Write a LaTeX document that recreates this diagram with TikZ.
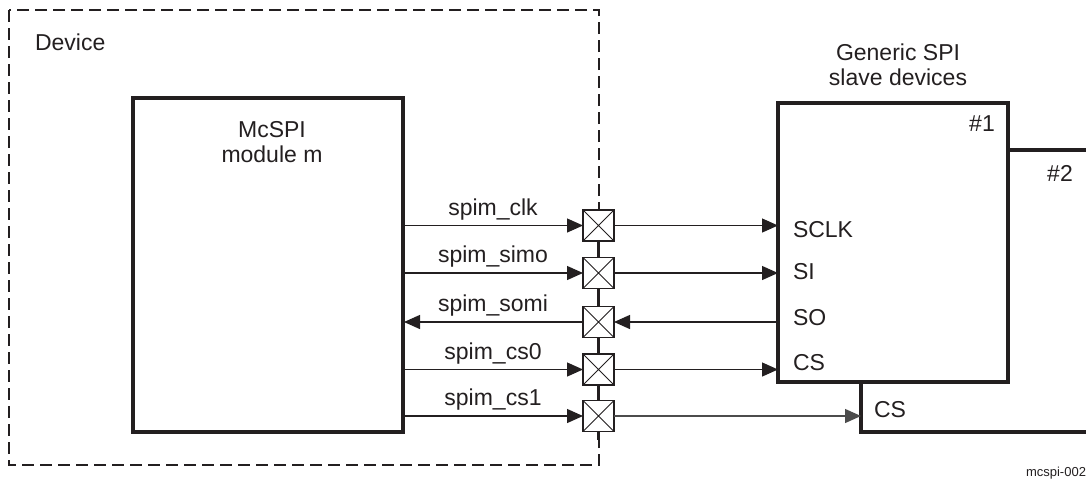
\documentclass[tikz,border=0pt]{standalone}
\usepackage{fontspec}
\setmainfont{Liberation Sans}
\usetikzlibrary{arrows.meta}
\definecolor{ink}{HTML}{231F20}
\begin{document}
\begin{tikzpicture}[x=1pt,y=-1pt,
  every node/.style={inner sep=0pt,outer sep=0pt,text=ink,font=\fontsize{23}{25}\selectfont},
  devbox/.style={draw=ink,line width=2.8pt,dash pattern=on 12pt off 6pt},
  modbox/.style={draw=ink,line width=3.3pt,fill=white},
  slavebox/.style={draw=ink,line width=3.8pt,fill=white},
  pad/.style={draw=ink,line width=1.9pt,fill=white,minimum size=31pt,path picture={
    \draw[ink,line width=0.9pt] (path picture bounding box.north west) -- (path picture bounding box.south east)
      (path picture bounding box.north east) -- (path picture bounding box.south west);}},
  sig/.style={draw=ink,line width=1.3pt,-{Triangle[length=16pt,width=14pt]}},
  lbl/.style={anchor=base},
  port/.style={anchor=west}
]
\useasboundingbox (0,0) rectangle (1086,483);
% device boundary
\draw[devbox] (9,10) rectangle (599,465);
\node[anchor=west] (dev) at (35,42) {Device};
% McSPI module
\draw[modbox] (133,98) rectangle (403,432);
\node[align=center,anchor=base] (mod) at (272,162) {McSPI\\module m};
% slave boxes
\draw[slavebox] (1090,150) -| (861,432) -- (1090,432);
\node[slavebox,minimum width=230pt,minimum height=279pt,anchor=north west] (s1) at (778,103) {};
\node[align=center,anchor=base] (gen) at (898,85) {Generic SPI\\slave devices};
\node (n1) at (982,124) {\#1};
\node (n2) at (1060,173) {\#2};
% pads
\foreach \n/\y in {1/225.5,2/273,3/322,4/369.5,5/416}{
  \node[pad] (p\n) at (598.5,\y) {};
}
\draw[ink,line width=2.8pt] (p1.south) -- (p2.north) (p2.south) -- (p3.north) (p3.south) -- (p4.north) (p4.south) -- (p5.north) (p5.south) -- ++(0,8);
% signal lines
\draw[sig] (403,225.5) -- (p1.west);
\draw[sig] (403,273) -- (p2.west);
\draw[sig] (p3.west) -- (404,322);
\draw[sig] (403,369.5) -- (p4.west);
\draw[sig] (403,416) -- (p5.west);
\node[lbl] (l1) at (493,215) {spim\_clk};
\node[lbl] (l2) at (493,262.5) {spim\_simo};
\node[lbl] (l3) at (493,311.5) {spim\_somi};
\node[lbl] (l4) at (493,359) {spim\_cs0};
\node[lbl] (l5) at (493,405.5) {spim\_cs1};
% slave side
\draw[sig] (p1.east) -- (p1.east -| s1.west);
\draw[sig] (p2.east) -- (p2.east -| s1.west);
\draw[sig] (p3.east -| s1.west) -- (p3.east);
\draw[sig] (p4.east) -- (p4.east -| s1.west);
\coordinate (c2) at (861,416);
\draw[sig,draw=black!70] (p5.east) -- (c2);
\node[port] (sclk) at (793,230) {SCLK};
\node[port] (si) at (793,272) {SI};
\node[port] (so) at (793,318) {SO};
\node[port] (cs) at (793,363) {CS};
\node[port] (cs2) at (874,410) {CS};
\node[anchor=east,font=\fontsize{13}{15}\selectfont] (tag) at (1086,473) {mcspi-002};
\end{tikzpicture}
\end{document}
